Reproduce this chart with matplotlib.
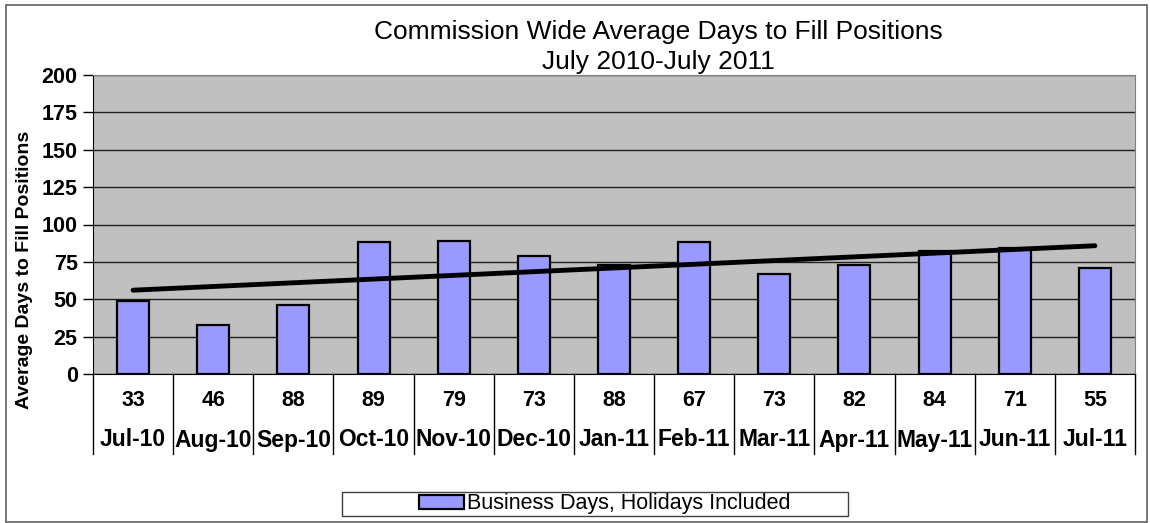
import numpy as np
import matplotlib
matplotlib.use("Agg")
import matplotlib.pyplot as plt
from matplotlib.patches import Rectangle
import matplotlib.transforms as mtransforms

# data
months = ["Jul-10", "Aug-10", "Sep-10", "Oct-10", "Nov-10", "Dec-10", "Jan-11",
          "Feb-11", "Mar-11", "Apr-11", "May-11", "Jun-11", "Jul-11"]
bar_days = [49, 33, 46, 88, 89, 79, 73, 88, 67, 73, 82, 84, 71]
table_days = [33, 46, 88, 89, 79, 73, 88, 67, 73, 82, 84, 71, 55]
series_name = "Business Days, Holidays Included"

plt.rcParams['font.family'] = ['Liberation Sans', 'DejaVu Sans']

W, H = 1150, 523
fig = plt.figure(figsize=(W / 100, H / 100), dpi=100)
fig.patch.set_facecolor("white")

def px(x0, y0, x1, y1):
    # pixel box (top-left origin) -> figure fraction rect
    return [x0 / W, 1 - y1 / H, (x1 - x0) / W, (y1 - y0) / H]

ax = fig.add_axes(px(93, 75, 1135, 374))
ax.set_facecolor("#C0C0C0")

x = np.arange(len(months))
bars = ax.bar(x, bar_days, width=0.4, color="#9999FF", edgecolor="black",
              linewidth=1.6, zorder=3, label=series_name)

# linear trendline through the bars
k, b = np.polyfit(x, bar_days, 1)
ax.plot(x[[0, -1]], k * x[[0, -1]] + b, color="black", lw=3.5, zorder=4,
        solid_capstyle="round")

ax.set_xlim(-0.5, len(months) - 0.5)
ax.set_ylim(0, 200)
ax.set_yticks(np.arange(0, 201, 25))
ax.grid(axis="y", color="#202020", lw=1.0, zorder=1)
ax.set_axisbelow(True)
ax.tick_params(axis="y", direction="out", length=7, width=1, pad=4,
               labelsize=15.5)
for t in ax.get_yticklabels():
    t.set_fontweight("bold")
ax.set_xticks([])
for s in ["top", "right"]:
    ax.spines[s].set_color("#808080")
ax.spines["left"].set_color("black")
ax.spines["bottom"].set_color("black")

fig.text(25 / W, 1 - 270 / H, "Average Days to Fill Positions", rotation=90,
         ha="center", va="center", fontsize=14, fontweight="bold")

# data table under the axis
trans = mtransforms.blended_transform_factory(ax.transData, ax.transAxes)
row_h = (454 - 374) / (374 - 75)
for edge in np.arange(-0.5, len(months), 1.0):
    ax.plot([edge, edge], [0, -row_h], color="black", lw=1.0,
            transform=trans, clip_on=False)
y_num = -(401 - 374) / (374 - 75)
y_lab = -(440 - 374) / (374 - 75)
for i in range(len(months)):
    ax.text(i, y_num, str(table_days[i]), transform=trans, ha="center",
            va="center", fontsize=15.5, fontweight="bold")
    ax.text(i, y_lab, months[i], transform=trans, ha="center",
            va="center", fontsize=16.5, fontweight="bold")

fig.text(658 / W, 1 - 32 / H, "Commission Wide Average Days to Fill Positions",
         ha="center", va="center", fontsize=19)
fig.text(658 / W, 1 - 62 / H, "July 2010-July 2011",
         ha="center", va="center", fontsize=19)

# legend box
r = px(342, 492, 848, 516)
fig.patches.append(Rectangle((r[0], r[1]), r[2], r[3], transform=fig.transFigure,
                             facecolor="white", edgecolor="#404040", lw=1.0))
fig.legend(handles=[bars], loc="center", bbox_to_anchor=(605 / W, 1 - 504 / H),
           frameon=False, fontsize=15.5, handlelength=2.1, handleheight=0.6,
           handletextpad=0.15, borderpad=0)

# outer chart border
r = px(6, 5, 1147, 522)
fig.patches.append(Rectangle((r[0], r[1]), r[2], r[3], transform=fig.transFigure,
                             facecolor="none", edgecolor="#606060", lw=1.2))

fig.savefig("out.png", dpi=100)
